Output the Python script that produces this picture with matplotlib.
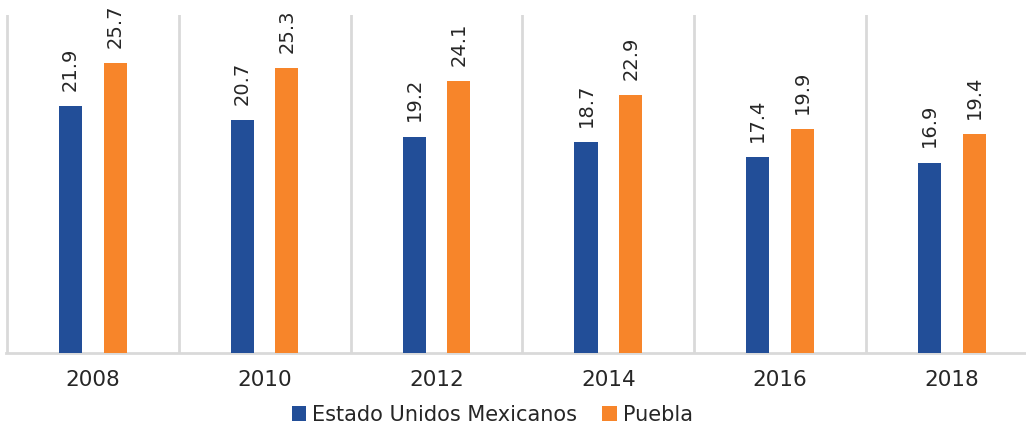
import numpy as np
import matplotlib
matplotlib.use("Agg")
import matplotlib.pyplot as plt

years = ["2008", "2010", "2012", "2014", "2016", "2018"]
eum = [21.9, 20.7, 19.2, 18.7, 17.4, 16.9]
puebla = [25.7, 25.3, 24.1, 22.9, 19.9, 19.4]

BLUE = "#224E98"
ORANGE = "#F7852A"
GRID = "#D9D9D9"
TEXT = "#262626"

plt.rcParams["font.family"] = ["DejaVu Sans"]

fig = plt.figure(figsize=(10.26, 4.29), dpi=100)
ax = fig.add_axes([6 / 1026, 1 - 353 / 429, 1 - 6 / 1026, (353 - 15) / 429])

x = np.arange(len(years))
w = 0.134
off = 0.13
b1 = ax.bar(x - off, eum, w, color=BLUE, label="Estado Unidos Mexicanos", zorder=3)
b2 = ax.bar(x + off, puebla, w, color=ORANGE, label="Puebla", zorder=3)

# value labels, rotated above each bar
for bars, vals in ((b1, eum), (b2, puebla)):
    for r, v in zip(bars, vals):
        ax.annotate(f"{v:.1f}", (r.get_x() + r.get_width() / 2, v),
                    xytext=(0, 11), textcoords="offset points",
                    rotation=90, ha="center", va="bottom",
                    fontsize=14, color=TEXT)

ax.set_yticks([])
ax.set_xticks(x)
ax.set_xticklabels(years, fontsize=15.5, color=TEXT)
ax.tick_params(axis="x", length=0, pad=12)
# separators between categories
ax.set_xticks(np.arange(-0.5, 5), minor=True)
ax.tick_params(axis="x", which="minor", length=0)
ax.grid(which="minor", axis="x", color=GRID, linewidth=2, zorder=0)
ax.set_ylim(0, 30)
ax.set_xlim(-0.505, -0.5 + 1020 / 172)

for s in ("left", "right", "top"):
    ax.spines[s].set_visible(False)
ax.spines["bottom"].set_color(GRID)
ax.spines["bottom"].set_linewidth(2)

fig.legend(loc="center", bbox_to_anchor=(0.48, 1 - 415 / 429), ncol=2,
           frameon=False, fontsize=15, handlelength=0.7, handleheight=0.7,
           handletextpad=0.3, columnspacing=1.2, labelcolor=TEXT)

fig.savefig("out.png", dpi=100)
